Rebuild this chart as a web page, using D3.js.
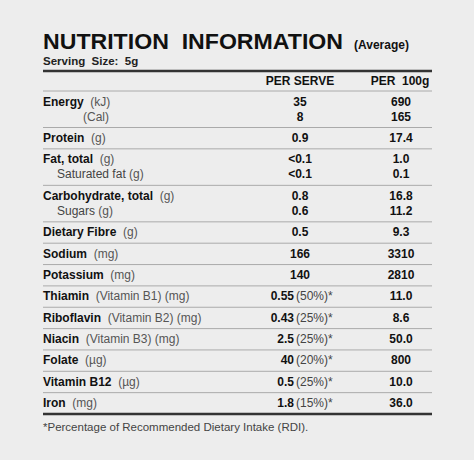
<!DOCTYPE html>
<html><head><meta charset="utf-8">
<script src="https://cdn.jsdelivr.net/npm/d3@7"></script>
<style>body{margin:0;background:#ededed}svg{display:block;font-family:"Liberation Sans",Arial,sans-serif}</style>
</head><body><svg id="c" width="474" height="460"></svg>
<script>
// nutrient groups: each group has one or two lines
var names = ["Energy", "", "Protein", "Fat, total", "Saturated fat", "Carbohydrate, total", "Sugars", "Dietary Fibre", "Sodium", "Potassium", "Thiamin", "Riboflavin", "Niacin", "Folate", "Vitamin B12", "Iron"];
var units = ["(kJ)", "(Cal)", "(g)", "(g)", "(g)", "(g)", "(g)", "(g)", "(mg)", "(mg)", "(Vitamin B1) (mg)", "(Vitamin B2) (mg)", "(Vitamin B3) (mg)", "(\u00b5g)", "(\u00b5g)", "(mg)"];
var perServe = ["35", "8", "0.9", "<0.1", "<0.1", "0.8", "0.6", "0.5", "166", "140", "0.55", "0.43", "2.5", "40", "0.5", "1.8"];
var rdi = ["", "", "", "", "", "", "", "", "", "", "(50%)*", "(25%)*", "(25%)*", "(20%)*", "(25%)*", "(15%)*"];
var per100 = ["690", "165", "17.4", "1.0", "0.1", "16.8", "11.2", "9.3", "3310", "2810", "11.0", "8.6", "50.0", "800", "10.0", "36.0"];
var group = [0, 0, 1, 2, 2, 3, 3, 4, 5, 6, 7, 8, 9, 10, 11, 12];
var indent = [0, 40, 0, 0, 14, 0, 14, 0, 0, 0, 0, 0, 0, 0, 0, 0];

var svg = d3.select("#c");
var L = 43, R = 432;
var sizes = d3.rollup(group, function (v) { return v.length; }, function (g) { return g; });
var gids = Array.from(sizes.keys());
var heights = gids.map(function (g) { return sizes.get(g) === 2 ? 36.5 : 21.35; });
var tops = [91];
heights.forEach(function (h, i) { tops.push(tops[i] + h); });

svg.append("text").attr("x", L).attr("y", 49).attr("font-size", 22).attr("font-weight", "bold").attr("xml:space", "preserve")
  .attr("textLength", 300).attr("lengthAdjust", "spacingAndGlyphs").attr("fill", "#111").text("NUTRITION  INFORMATION");
svg.append("text").attr("x", 354).attr("y", 49).attr("font-size", 12).attr("font-weight", "bold").attr("fill", "#111").text("(Average)");
svg.append("text").attr("x", L).attr("y", 65).attr("font-size", 11.5).attr("font-weight", "bold").attr("fill", "#222").attr("xml:space", "preserve").text("Serving  Size:  5g");
svg.append("line").attr("x1", L).attr("x2", R).attr("y1", 71).attr("y2", 71).attr("stroke", "#333").attr("stroke-width", 2.5);
svg.append("text").attr("x", 300).attr("y", 85).attr("text-anchor", "middle").attr("font-size", 12).attr("font-weight", "bold").attr("fill", "#111").text("PER SERVE");
svg.append("text").attr("x", 400).attr("y", 85).attr("text-anchor", "middle").attr("font-size", 12).attr("font-weight", "bold").attr("fill", "#111").attr("xml:space", "preserve").text("PER  100g");

tops.slice(0, -1).forEach(function (t) {
  svg.append("line").attr("x1", L).attr("x2", R).attr("y1", t).attr("y2", t).attr("stroke", "#aaa").attr("stroke-width", 1);
});
var last = tops[tops.length - 1];
svg.append("line").attr("x1", L).attr("x2", R).attr("y1", last).attr("y2", last).attr("stroke", "#333").attr("stroke-width", 2.5);

var seen = {};
names.forEach(function (n, i) {
  var g = group[i], k = seen[g] || 0; seen[g] = k + 1;
  var y = tops[gids.indexOf(g)] + 14.5 + k * 15;
  var sub = indent[i] > 0;
  var t = svg.append("text").attr("x", L + indent[i]).attr("y", y).attr("font-size", 12).attr("xml:space", "preserve");
  if (n && !sub) t.append("tspan").attr("font-weight", "bold").attr("fill", "#111").text(n + "  ");
  if (sub && n) t.append("tspan").attr("fill", "#444").text(n + " ");
  t.append("tspan").attr("fill", "#555").text(units[i]);
  if (rdi[i]) {
    svg.append("text").attr("x", 294).attr("y", y).attr("text-anchor", "end").attr("font-size", 12).attr("font-weight", "bold").attr("fill", "#111").text(perServe[i]);
    svg.append("text").attr("x", 296).attr("y", y).attr("font-size", 12).attr("fill", "#444").text(rdi[i]);
  } else {
    svg.append("text").attr("x", 300).attr("y", y).attr("text-anchor", "middle").attr("font-size", 12).attr("font-weight", "bold").attr("fill", "#111").text(perServe[i]);
  }
  svg.append("text").attr("x", 401).attr("y", y).attr("text-anchor", "middle").attr("font-size", 12).attr("font-weight", "bold").attr("fill", "#111").text(per100[i]);
});

svg.append("text").attr("x", L).attr("y", last + 17).attr("font-size", 11.5).attr("fill", "#444").text("*Percentage of Recommended Dietary Intake (RDI).");
</script></body></html>
